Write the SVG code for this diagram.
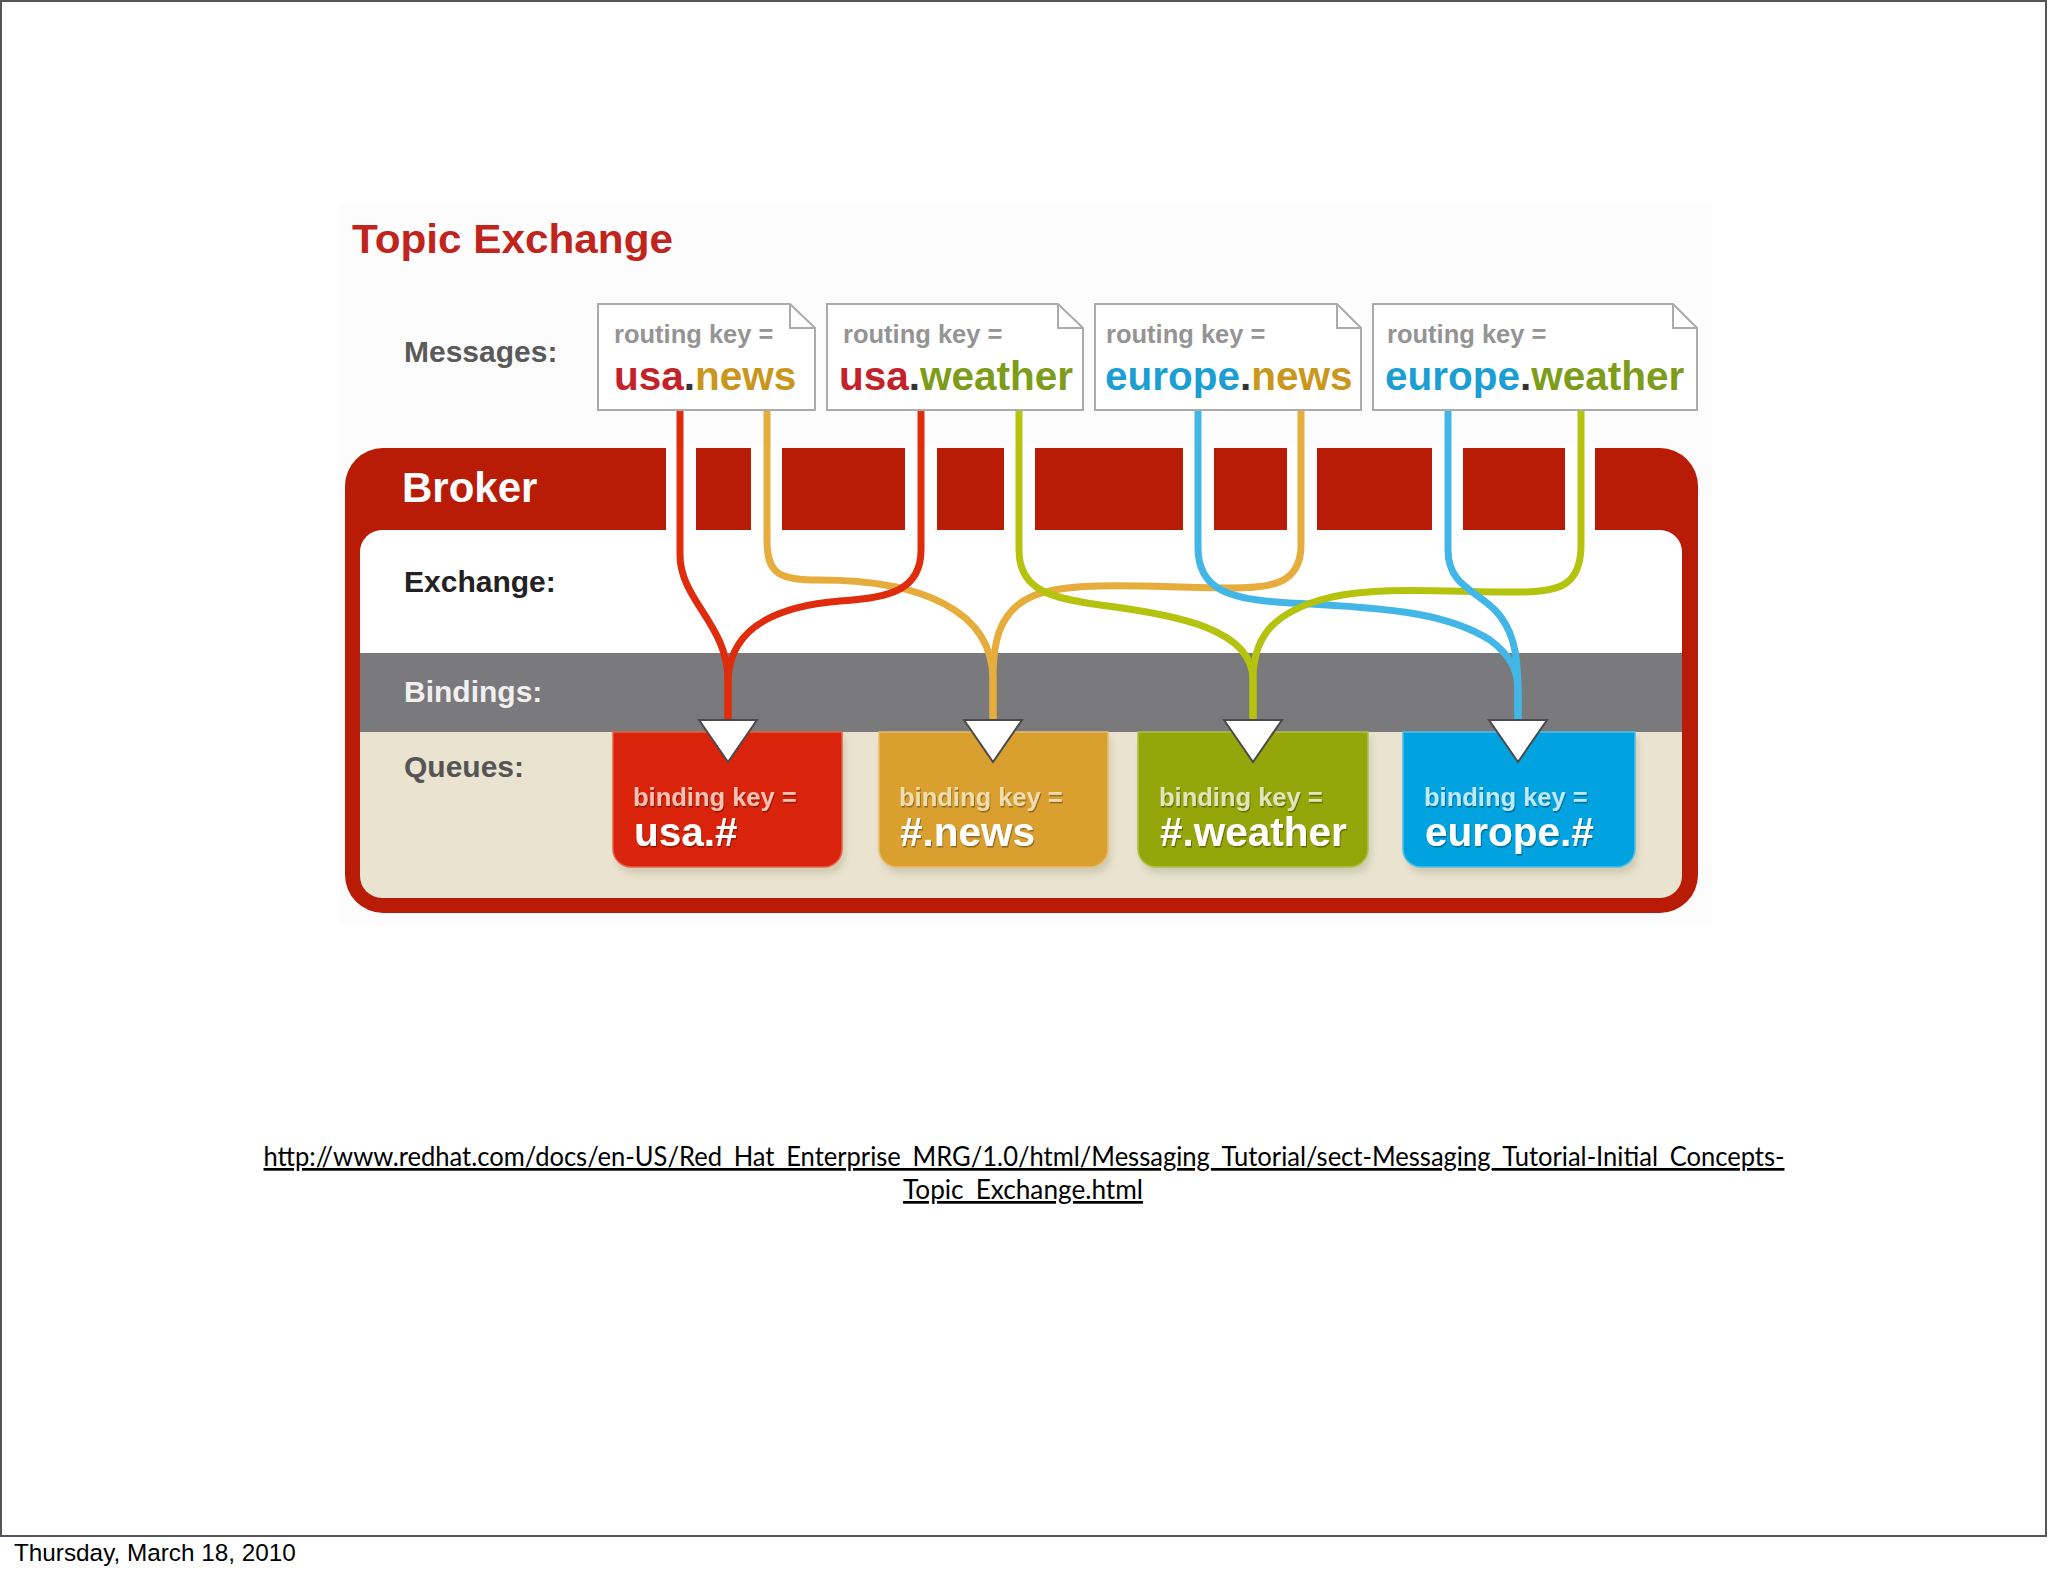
<svg xmlns="http://www.w3.org/2000/svg" width="2048" height="1576" viewBox="0 0 2048 1576">
<defs>
<style>
.f{font-family:"Liberation Sans",Arial,sans-serif;font-weight:bold}
.lbl{font-size:30px}
.rk{font-size:25.5px;fill:#949494}
.big{font-size:40.5px}
.bk{font-size:25.5px}
.msg{fill:#fff;stroke:#ababab;stroke-width:2}
.fold{fill:none;stroke:#ababab;stroke-width:2}
.ln{fill:none;stroke-width:7;stroke-linecap:butt}
.tri{fill:#fff;stroke:#4a4a4a;stroke-width:2;stroke-linejoin:miter}
.qt{fill:#fff}
.gap{fill:#fff}
</style>
<clipPath id="innerClip"><rect x="360" y="530" width="1322" height="368" rx="22"/></clipPath>
<filter id="ts" x="-10%" y="-30%" width="120%" height="160%"><feDropShadow dx="1" dy="1.5" stdDeviation="0.6" flood-color="#000" flood-opacity="0.35"/></filter>
<filter id="sh" x="-10%" y="-10%" width="120%" height="130%"><feGaussianBlur stdDeviation="3"/></filter>
</defs>

<rect x="0" y="0" width="2048" height="1576" fill="#fff"/>
<rect x="1" y="1" width="2045" height="1535" fill="none" stroke="#555" stroke-width="2"/>
<rect x="340" y="202" width="1372" height="724" fill="#fcfcfc"/>

<g id="title">
<text class="f" x="352" y="253" font-size="40" fill="#c0241c" textLength="321" lengthAdjust="spacingAndGlyphs">Topic Exchange</text>
</g>

<g id="row-labels">
<text class="f lbl" x="404" y="362" fill="#5a5a5a">Messages:</text>
</g>

<g id="broker">
<rect x="345" y="448" width="1353" height="465" rx="38" fill="#b81c06"/>
<g clip-path="url(#innerClip)">
<rect x="360" y="530" width="1322" height="123" fill="#fff"/>
<rect x="360" y="653" width="1322" height="79" fill="#7a797b"/>
<rect x="360" y="732" width="1322" height="166" fill="#e9e3cf"/>
</g>
<rect class="gap" x="666" y="446" width="30" height="90"/>
<rect class="gap" x="751" y="446" width="31" height="90"/>
<rect class="gap" x="905" y="446" width="32" height="90"/>
<rect class="gap" x="1004" y="446" width="31" height="90"/>
<rect class="gap" x="1183" y="446" width="31" height="90"/>
<rect class="gap" x="1287" y="446" width="30" height="90"/>
<rect class="gap" x="1432" y="446" width="31" height="90"/>
<rect class="gap" x="1565" y="446" width="30" height="90"/>
<text class="f" x="402" y="502" font-size="42" fill="#fff">Broker</text>
<text class="f lbl" x="404" y="592" fill="#222">Exchange:</text>
<text class="f lbl" x="404" y="702" fill="#f0f0f0">Bindings:</text>
<text class="f lbl" x="404" y="777" fill="#555">Queues:</text>
</g>

<g id="msg-usa-news">
<path class="msg" d="M598 304 H790 L815 328 V410 H598 Z"/>
<path class="fold" d="M790 304 V328 H815"/>
<text class="f rk" x="614" y="343">routing key =</text>
<text class="f big" x="614" y="390"><tspan fill="#c4222a">usa</tspan><tspan fill="#333">.</tspan><tspan fill="#c9971c">news</tspan></text>
</g>
<g id="msg-usa-weather">
<path class="msg" d="M827 304 H1058 L1083 328 V410 H827 Z"/>
<path class="fold" d="M1058 304 V328 H1083"/>
<text class="f rk" x="843" y="343">routing key =</text>
<text class="f big" x="839" y="390"><tspan fill="#c4222a">usa</tspan><tspan fill="#333">.</tspan><tspan fill="#7d9c1a">weather</tspan></text>
</g>
<g id="msg-europe-news">
<path class="msg" d="M1095 304 H1337 L1361 328 V410 H1095 Z"/>
<path class="fold" d="M1337 304 V328 H1361"/>
<text class="f rk" x="1106" y="343">routing key =</text>
<text class="f big" x="1105" y="390"><tspan fill="#1b9fd3">europe</tspan><tspan fill="#333">.</tspan><tspan fill="#c9971c">news</tspan></text>
</g>
<g id="msg-europe-weather">
<path class="msg" d="M1373 304 H1673 L1697 328 V410 H1373 Z"/>
<path class="fold" d="M1673 304 V328 H1697"/>
<text class="f rk" x="1387" y="343">routing key =</text>
<text class="f big" x="1385" y="390"><tspan fill="#1b9fd3">europe</tspan><tspan fill="#333">.</tspan><tspan fill="#7d9c1a">weather</tspan></text>
</g>

<g id="queue-usa">
<path d="M616 737 H845 V856 A18 18 0 0 1 827 874 H634 A18 18 0 0 1 616 856 Z" fill="#c9c1a8" opacity="0.7" filter="url(#sh)"/>
<path d="M613 732 H842 V849 A18 18 0 0 1 824 867 H631 A18 18 0 0 1 613 849 Z" fill="#d9230b" stroke="#e8604c" stroke-width="1.5"/>
<text class="f bk" x="633" y="806" fill="#f6c2b4" filter="url(#ts)">binding key =</text>
<text class="f big qt" x="634" y="846" filter="url(#ts)">usa.#</text>
</g>
<g id="queue-news">
<path d="M882 737 H1111 V856 A18 18 0 0 1 1093 874 H900 A18 18 0 0 1 882 856 Z" fill="#c9c1a8" opacity="0.7" filter="url(#sh)"/>
<path d="M879 732 H1108 V849 A18 18 0 0 1 1090 867 H897 A18 18 0 0 1 879 849 Z" fill="#d9a02f" stroke="#e9bd68" stroke-width="1.5"/>
<text class="f bk" x="899" y="806" fill="#f1dcae" filter="url(#ts)">binding key =</text>
<text class="f big qt" x="900" y="846" filter="url(#ts)">#.news</text>
</g>
<g id="queue-weather">
<path d="M1141 737 H1371 V856 A18 18 0 0 1 1353 874 H1159 A18 18 0 0 1 1141 856 Z" fill="#c9c1a8" opacity="0.7" filter="url(#sh)"/>
<path d="M1138 732 H1368 V849 A18 18 0 0 1 1350 867 H1156 A18 18 0 0 1 1138 849 Z" fill="#95a60a" stroke="#b3c04a" stroke-width="1.5"/>
<text class="f bk" x="1159" y="806" fill="#e0e6bb" filter="url(#ts)">binding key =</text>
<text class="f big qt" x="1160" y="846" filter="url(#ts)">#.weather</text>
</g>
<g id="queue-europe">
<path d="M1406 737 H1638 V856 A18 18 0 0 1 1620 874 H1424 A18 18 0 0 1 1406 856 Z" fill="#c9c1a8" opacity="0.7" filter="url(#sh)"/>
<path d="M1403 732 H1635 V849 A18 18 0 0 1 1617 867 H1421 A18 18 0 0 1 1403 849 Z" fill="#00a3e0" stroke="#4cc0ec" stroke-width="1.5"/>
<text class="f bk" x="1424" y="806" fill="#bfe8f8" filter="url(#ts)">binding key =</text>
<text class="f big qt" x="1425" y="846" filter="url(#ts)">europe.#</text>
</g>

<g id="connectors">
<path class="ln" stroke="#e6ad3d" d="M767 411 V540 C767 575 780 580 820 580 C920 580 993 610 993 680 V722"/>
<path class="ln" stroke="#de2c0c" d="M680 411 V555 C680 600 728 625 728 680 V722"/>
<path class="ln" stroke="#de2c0c" d="M921 411 V550 C921 590 890 598 840 601 C780 606 730 625 728 680 V722"/>
<path class="ln" stroke="#e6ad3d" d="M1301 411 V545 C1301 585 1270 588 1230 588 C1150 588 1060 578 1025 600 C1000 615 993 640 993 680 V722"/>
<path class="ln" stroke="#b5c30e" d="M1019 411 V550 C1019 590 1050 598 1100 605 C1180 615 1253 630 1253 680 V722"/>
<path class="ln" stroke="#42b7e7" d="M1198 411 V548 C1198 590 1230 600 1290 603 C1400 608 1450 615 1490 640 C1510 655 1518 670 1518 690 V722"/>
<path class="ln" stroke="#b5c30e" d="M1581 411 V545 C1581 585 1560 592 1520 592 C1440 592 1370 585 1320 600 C1270 615 1253 640 1253 680 V722"/>
<path class="ln" stroke="#42b7e7" d="M1448 411 V550 C1448 585 1475 590 1495 610 C1512 628 1518 650 1518 690 V722"/>
<path class="tri" d="M699 720 H757 L728 762 Z"/>
<path class="tri" d="M964 720 H1022 L993 762 Z"/>
<path class="tri" d="M1224 720 H1282 L1253 762 Z"/>
<path class="tri" d="M1489 720 H1547 L1518 762 Z"/>
</g>

<g id="source-link">
<text x="1024" y="1166" text-anchor="middle" font-family="Lato, 'Open Sans', sans-serif" font-size="27" fill="#000" text-decoration="underline" textLength="1521" lengthAdjust="spacingAndGlyphs">http://www.redhat.com/docs/en-US/Red_Hat_Enterprise_MRG/1.0/html/Messaging_Tutorial/sect-Messaging_Tutorial-Initial_Concepts-</text>
<text x="1023" y="1199" text-anchor="middle" font-family="Lato, 'Open Sans', sans-serif" font-size="27" fill="#000" text-decoration="underline" textLength="240" lengthAdjust="spacingAndGlyphs">Topic_Exchange.html</text>
</g>

<g id="footer">
<text x="14" y="1561" font-family="'Liberation Sans', Arial, sans-serif" font-size="24.3" fill="#000">Thursday, March 18, 2010</text>
</g>
</svg>
